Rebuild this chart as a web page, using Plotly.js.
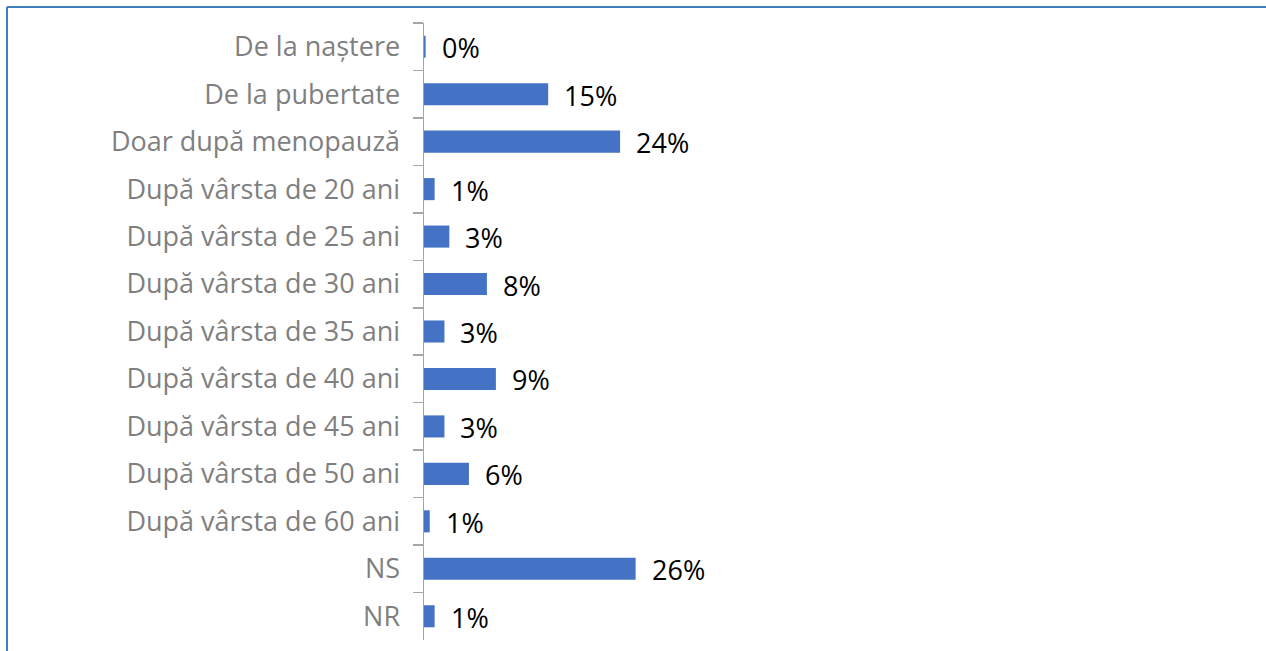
<!DOCTYPE html>
<html>
<head>
<meta charset="utf-8">
<script src="https://cdn.plot.ly/plotly-3.0.1.min.js"></script>
<style>
  html, body { margin: 0; padding: 0; background: #fff; }
  #chart { width: 1266px; height: 651px; }
</style>
</head>
<body>
<div id="chart"></div>
<script>
// categories, top to bottom as in the picture
let categories = [
  'De la naștere',
  'De la pubertate',
  'Doar după menopauză',
  'După vârsta de 20 ani',
  'După vârsta de 25 ani',
  'După vârsta de 30 ani',
  'După vârsta de 35 ani',
  'După vârsta de 40 ani',
  'După vârsta de 45 ani',
  'După vârsta de 50 ani',
  'După vârsta de 60 ani',
  'NS',
  'NR'
];
let values = [0.2, 15.2, 24.0, 1.3, 3.1, 7.7, 2.5, 8.8, 2.5, 5.5, 0.7, 25.9, 1.3];
// labels as printed
let labels = ['0%', '15%', '24%', '1%', '3%', '8%', '3%', '9%', '3%', '6%', '1%', '26%', '1%'];

let W = 1266, H = 651;
let m = {l: 424, r: 25, t: 23, b: 11};
let pw = W - m.l - m.r, ph = H - m.t - m.b;
let labelFont = 'Open Sans, sans-serif';

let data = [{
  type: 'bar',
  orientation: 'h',
  y: categories,
  x: values,
  marker: {color: '#4472c4'},
  hoverinfo: 'none'
}];

// value labels to the right of each bar
let annotations = categories.map((c, i) => ({
  x: values[i],
  y: c,
  xref: 'x',
  yref: 'y',
  text: labels[i],
  showarrow: false,
  xanchor: 'left',
  yanchor: 'middle',
  xshift: 14,
  yshift: -1,
  font: {family: labelFont, size: 27, color: '#000000'}
}));

let layout = {
  width: W,
  height: H,
  margin: m,
  paper_bgcolor: '#ffffff',
  plot_bgcolor: '#ffffff',
  showlegend: false,
  bargap: 0.535,
  xaxis: {
    range: [0, 100],
    visible: false,
    fixedrange: true
  },
  yaxis: {
    type: 'category',
    autorange: 'reversed',
    showline: true,
    linecolor: '#a6a6a6',
    linewidth: 1.5,
    ticks: 'outside',
    tickson: 'boundaries',
    ticklen: 10,
    tickcolor: '#a6a6a6',
    tickwidth: 1.5,
    ticklabelstandoff: 17,
    showgrid: false,
    zeroline: false,
    tickfont: {family: labelFont, size: 27, color: '#7f7f7f'},
    fixedrange: true
  },
  annotations: annotations,
  shapes: [
    // frame round the chart (only top and left edges visible)
    {type: 'line', xref: 'paper', yref: 'paper',
      x0: (7 - m.l) / pw, x1: (W + 5 - m.l) / pw,
      y0: (H - m.b - 7) / ph, y1: (H - m.b - 7) / ph,
      line: {color: '#3f7fc0', width: 2}},
    {type: 'line', xref: 'paper', yref: 'paper',
      x0: (7 - m.l) / pw, x1: (7 - m.l) / pw,
      y0: (H - m.b - 7) / ph, y1: -m.b / ph - 0.05,
      line: {color: '#3f7fc0', width: 2}}
  ]
};

Plotly.newPlot('chart', data, layout, {displayModeBar: false, staticPlot: true});
</script>
</body>
</html>
